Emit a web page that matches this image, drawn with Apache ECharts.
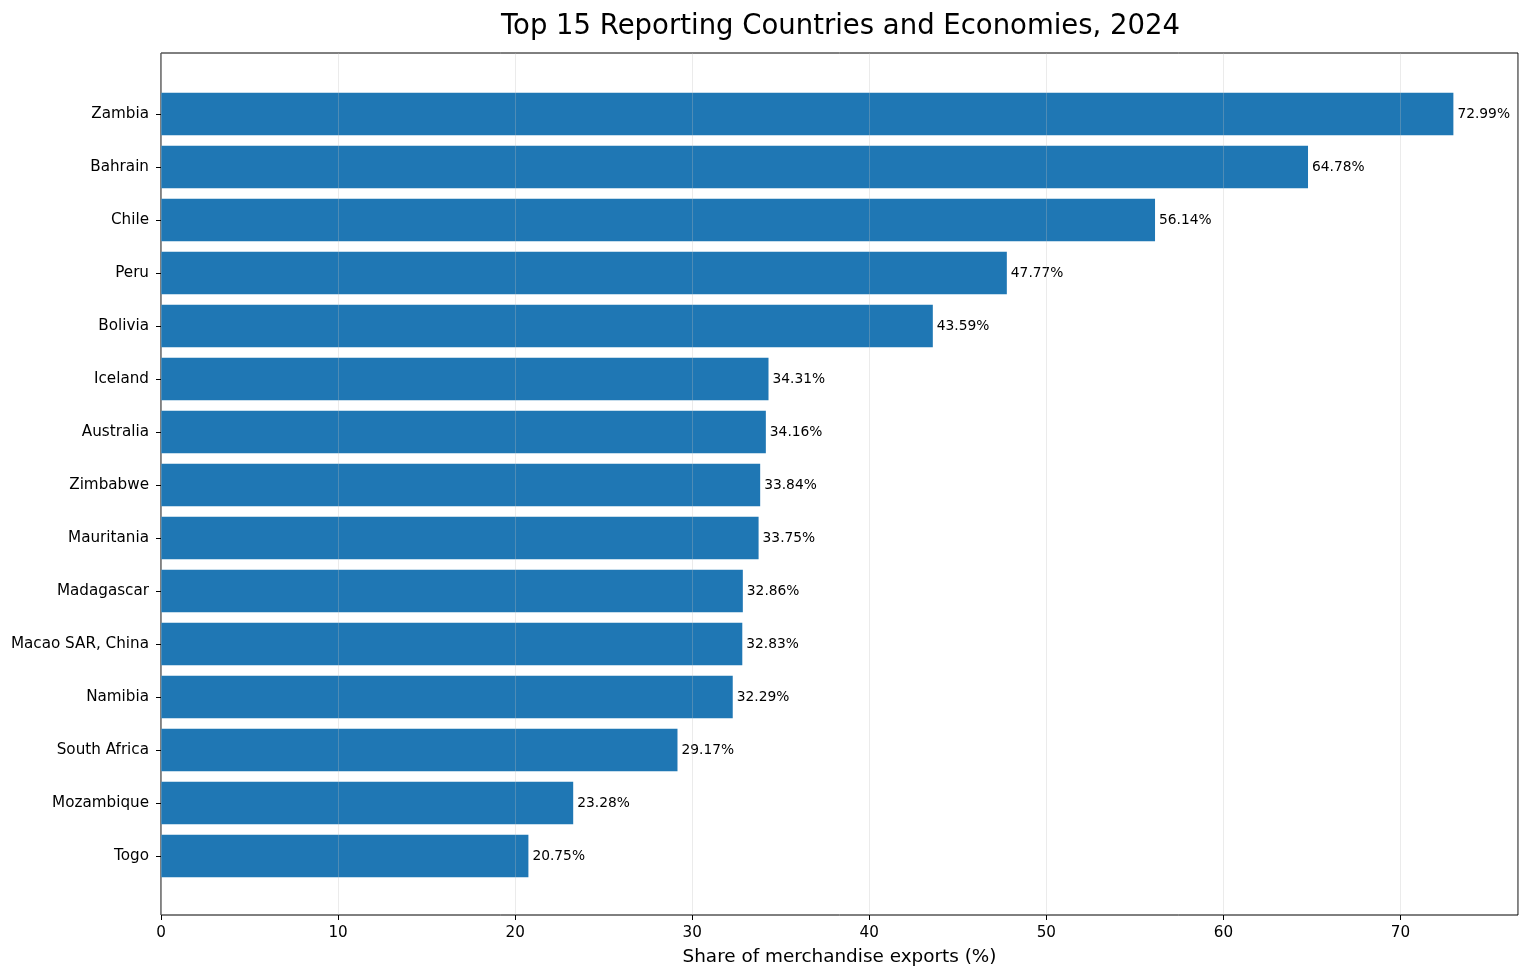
<!DOCTYPE html>
<html><head><meta charset="utf-8">
<script src="https://cdn.jsdelivr.net/npm/echarts@6/dist/echarts.min.js"></script>
<style>html,body{margin:0;padding:0;background:#fff}#c{width:1528px;height:977px}</style>
</head><body><div id="c"></div>
<script>
const categories = ["Zambia","Bahrain","Chile","Peru","Bolivia","Iceland","Australia","Zimbabwe","Mauritania","Madagascar","Macao SAR, China","Namibia","South Africa","Mozambique","Togo"];
const values = [72.99,64.78,56.14,47.77,43.59,34.31,34.16,33.84,33.75,32.86,32.83,32.29,29.17,23.28,20.75];
const xTicks = [0,10,20,30,40,50,60,70];
const titleText = "Top 15 Reporting Countries and Economies, 2024";
const xName = "Share of merchandise exports (%)";

const FONT = "DejaVu Sans";
const xMax = Math.max(...values) * 1.05;
const chart = echarts.init(document.getElementById('c'), null, {renderer:'canvas'});
chart.setOption({
  animation:false,
  textStyle:{fontFamily:FONT},
  title:{text:titleText,left:835.5,top:8,textAlign:'center',
    textStyle:{fontFamily:FONT,fontSize:27.5,fontWeight:'normal',color:'#000'}},
  grid:[
    {left:161,right:10,top:87.5,height:795,containLabel:false},
    {left:161,right:10,top:53,height:862,show:true,borderColor:'#000',borderWidth:1,backgroundColor:'transparent'}
  ],
  xAxis:[
    {gridIndex:0,type:'value',min:0,max:xMax,show:false},
    {gridIndex:1,type:'value',min:0,max:xMax,interval:10,z:5,
      axisLine:{show:false},
      axisTick:{show:true,length:5,lineStyle:{color:'#000'}},
      axisLabel:{fontSize:15.2,color:'#000',margin:11,fontFamily:FONT,showMaxLabel:false,
        formatter:v=>xTicks.includes(v)?String(v):''},
      splitLine:{show:true,lineStyle:{color:'rgba(190,190,190,0.3)',width:1}},
      name:xName,nameLocation:'middle',nameGap:33,
      nameTextStyle:{fontSize:18.4,color:'#000',fontFamily:FONT}}
  ],
  yAxis:[
    {gridIndex:0,type:'category',data:categories,inverse:true,
      axisLine:{show:false},
      axisTick:{show:true,alignWithLabel:true,length:5,lineStyle:{color:'#000'}},
      axisLabel:{fontSize:15.2,color:'#000',margin:12,fontFamily:FONT,padding:[3,0,0,0]},
      splitLine:{show:false}},
    {gridIndex:1,type:'value',min:0,max:1,show:false}
  ],
  series:[{
    type:'bar',xAxisIndex:0,yAxisIndex:0,data:values,barWidth:42.4,
    itemStyle:{color:'#1f77b4'},
    label:{show:true,position:'right',distance:4,fontSize:13.8,color:'#000',fontFamily:FONT,
      padding:[3,0,0,0],formatter:p=>p.value.toFixed(2)+'%'}
  }]
});
</script></body></html>
